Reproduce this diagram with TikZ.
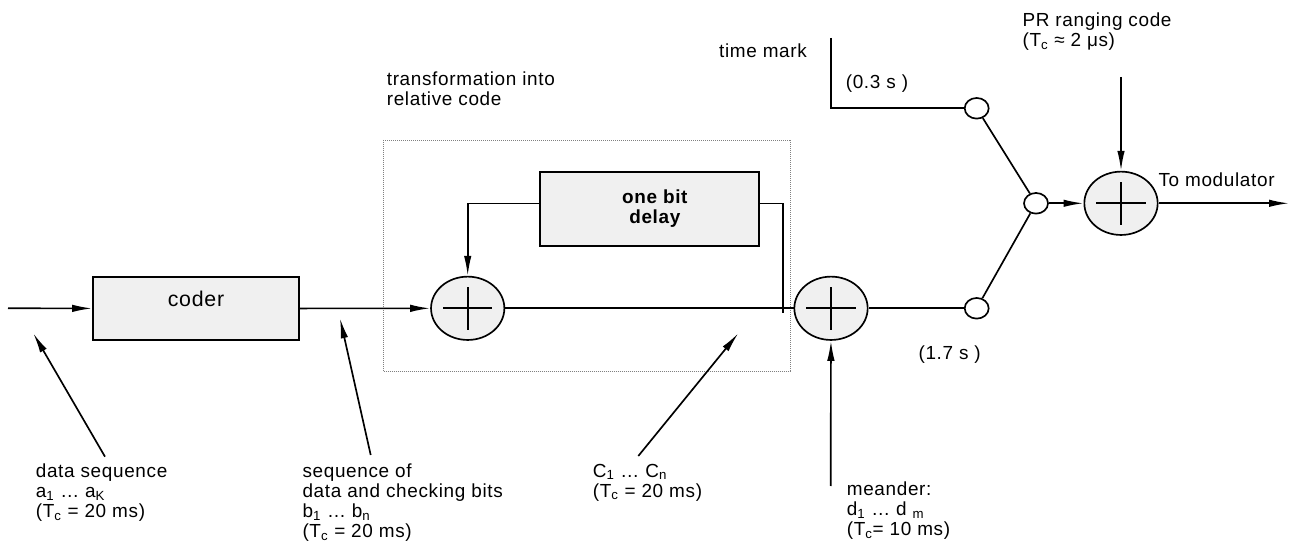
\documentclass[tikz,border=0pt]{standalone}
\usepackage{fontspec}
\setmainfont{Liberation Sans}[LetterSpace=3.5]
\usetikzlibrary{arrows.meta,shapes.geometric}
\newcommand{\lblfont}{\fontsize{14.2}{15}\selectfont}

\begin{document}
\begin{tikzpicture}[->,>={Latex[length=15pt,width=5.6pt]},x=0.75pt,y=-0.75pt,line width=1.25pt,
    every node/.style={font=\lblfont,inner sep=0pt}]
    \tikzstyle{block}=[draw,rectangle,fill=black!6]
    \tikzstyle{sum}=[draw,ellipse,fill=black!6,minimum width=55pt,minimum height=47.5pt,
      path picture={\draw[-,line width=1.25pt] ([xshift=-18.5pt]path picture bounding box.center) -- ([xshift=18.5pt]path picture bounding box.center)
        ([yshift=-16pt]path picture bounding box.center) -- ([yshift=16pt]path picture bounding box.center);}]
    \tikzstyle{switch}=[draw,ellipse,fill=white,minimum width=18pt,minimum height=15.5pt]
    \tikzstyle{frame}=[draw=black!50,line width=0.5pt,densely dotted]
    \tikzstyle{txt}=[align=left,anchor=north west]

    \useasboundingbox (0,0) rectangle (1289,541);

    \draw[frame,-] (383.3,140) rectangle (790.7,371.7);

    \node[block,minimum width=154.5pt,minimum height=47.25pt,text depth=15pt,font=\fontsize{16}{17}\selectfont] (coder) at (196,308.5) {coder};
    \node[block,minimum width=164pt,minimum height=55.5pt,align=center,font=\lblfont\bfseries] (delay) at (649.5,208.7) {\hspace*{8pt}one bit\\\hspace*{8pt}delay};
    \node[sum] (s1) at (467.7,308.3) {};
    \node[sum] (s2) at (831,308.3) {};
    \node[sum] (s3) at (1121,203.3) {};
    \node[switch] (up) at (976.7,108.3) {};
    \node[switch] (lo) at (976.7,308.3) {};
    \node[switch] (mid) at (1036,203.3) {};

    \coordinate (in) at (8,308.3);
    \coordinate (tap) at (782.7,313);
    \coordinate (tm) at (830.7,38);
    \coordinate (pr) at (1121,77);
    \coordinate (out) at (1289,203.3);
    \coordinate (mnd) at (830.7,486);
    \coordinate (dataTail) at (105,456.7);
    \coordinate (dataTip) at (33.3,333.3);
    \coordinate (seqTail) at (370.7,455);
    \coordinate (seqTip) at (340,318.3);
    \coordinate (cTail) at (638.3,456);
    \coordinate (cTip) at (738.3,333.3);

    % main signal path
    \draw (in) -- (coder);
    \draw (coder) -- (s1);
    \draw[-] (s1) -- (s2);
    \draw[-] (tap) |- ([yshift=4pt]delay.east);
    \draw ([yshift=4pt]delay.west) -| (s1);
    \draw[-] (s2) -- (lo);
    \draw[-] (tm) |- (up);
    \draw[-] (up) -- (mid);
    \draw[-] (lo) -- (mid);
    \draw (mid) -- (s3);
    \draw (pr) -- (s3);
    \draw (s3) -- (out);
    \draw (mnd) -- (s2);

    % pointers to the signals
    \draw (dataTail) -- (dataTip);
    \draw (seqTail) -- (seqTip);
    \draw (cTail) -- (cTip);

    \node[txt] (relLbl) at (386,70.7) {transformation into\\relative code};
    \node[anchor=west] (tmLbl) at (718.3,51) {time mark};
    \node[anchor=west] (t03) at (845,83.3) {(0.3 s )};
    \node[txt] (prLbl) at (1021.7,12) {PR ranging code\\(T\textsubscript{c} ≈ 2 μs)};
    \node[anchor=west] (modLbl) at (1157.7,180) {To modulator};
    \node[anchor=west] (t17) at (917.7,355) {(1.7 s )};
    \node[txt] (dataLbl) at (35,463) {data sequence\\a\textsubscript{1} … a\textsubscript{K}\\(T\textsubscript{c} = 20 ms)};
    \node[txt] (seqLbl) at (301.7,463) {sequence of\\data and checking bits\\b\textsubscript{1} … b\textsubscript{n}\\(T\textsubscript{c} = 20 ms)};
    \node[txt] (cLbl) at (592,463) {C\textsubscript{1} … C\textsubscript{n}\\(T\textsubscript{c} = 20 ms)};
    \node[txt] (mndLbl) at (846,481.4) {meander:\\d\textsubscript{1} … d \textsubscript{m}\\(T\textsubscript{c}= 10 ms)};
\end{tikzpicture}
\end{document}
